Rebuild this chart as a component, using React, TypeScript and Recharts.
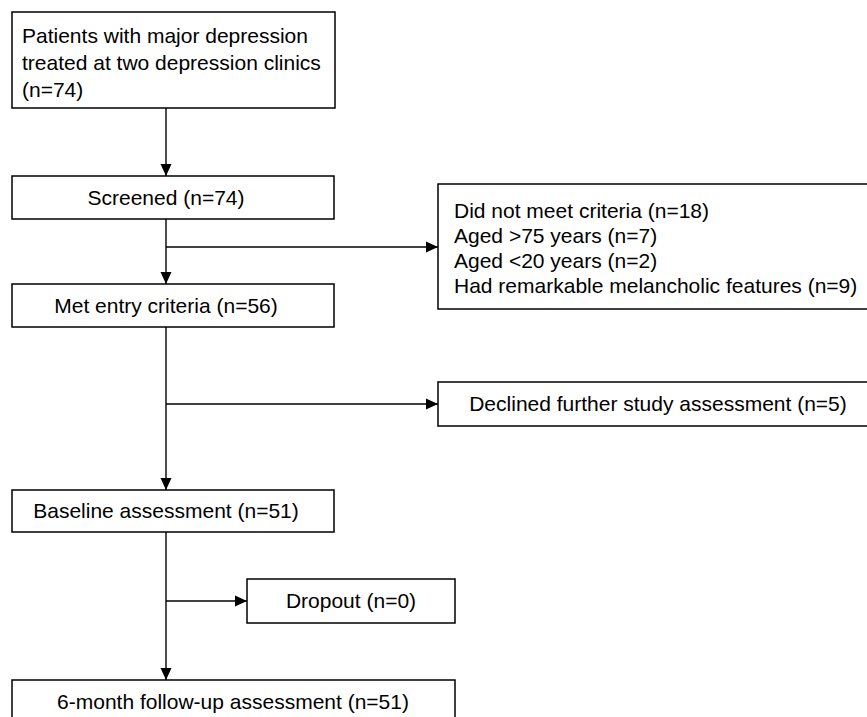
import React from "react";
import {
  ScatterChart,
  Scatter,
  XAxis,
  YAxis,
  ReferenceArea,
  ReferenceLine,
} from "recharts";

// Flowchart nodes (box corners in chart data coordinates)
const boxX1 = [12, 12, 438, 12, 438, 12, 247, 12];
const boxX2 = [335, 334, 880, 334, 878, 334, 455, 455];
const boxY1 = [12, 176, 184, 284, 382, 490, 579, 680];
const boxY2 = [108, 219, 309, 327, 426, 532, 623, 723];

// Text lines: content, anchor point, alignment
const labelTexts = [
  "Patients with major depression",
  "treated at two depression clinics",
  "(n=74)",
  "Screened (n=74)",
  "Did not meet criteria (n=18)",
  "Aged >75 years (n=7)",
  "Aged <20 years (n=2)",
  "Had remarkable melancholic features (n=9)",
  "Met entry criteria (n=56)",
  "Declined further study assessment (n=5)",
  "Baseline assessment (n=51)",
  "Dropout (n=0)",
  "6-month follow-up assessment (n=51)",
];
const labelX = [22, 22, 22, 166, 454, 454, 454, 454, 166, 658, 166, 351, 233];
const labelY = [36, 63, 90, 197.5, 211, 236, 261, 286, 305.5, 404, 511, 601, 701.5];
const labelAnchor = [
  "start", "start", "start", "middle", "start", "start", "start", "start",
  "middle", "middle", "middle", "middle", "middle",
];

// Connector segments
const segX1 = [166, 166, 166, 166, 166, 166, 166];
const segY1 = [108, 219, 247, 327, 404, 532, 601];
const segX2 = [166, 166, 438, 166, 438, 166, 247];
const segY2 = [176, 284, 247, 490, 404, 680, 601];

// Arrowhead tips
const arrowX = [166, 166, 438, 166, 438, 166, 247];
const arrowY = [176, 284, 247, 490, 404, 680, 601];
const arrowDir = ["down", "down", "right", "down", "right", "down", "right"];

const labelData = labelTexts.map((t, i) => ({
  x: labelX[i],
  y: labelY[i],
  text: t,
  anchor: labelAnchor[i],
}));
const arrowData = arrowX.map((x, i) => ({ x, y: arrowY[i], dir: arrowDir[i] }));

const FONT = "'Liberation Sans', Arial, sans-serif";

const LabelShape = (props: any) => {
  const { cx, cy, payload } = props;
  return (
    <text
      x={cx}
      y={cy}
      dy="0.35em"
      textAnchor={payload.anchor}
      fontFamily={FONT}
      fontSize={21}
      fill="#000"
    >
      {payload.text}
    </text>
  );
};

const ArrowShape = (props: any) => {
  const { cx, cy, payload } = props;
  const L = 12;
  const h = 5.5;
  const pts =
    payload.dir === "down"
      ? `${cx},${cy} ${cx - h},${cy - L} ${cx + h},${cy - L}`
      : `${cx},${cy} ${cx - L},${cy - h} ${cx - L},${cy + h}`;
  return <polygon points={pts} fill="#000" stroke="none" />;
};

export default function App() {
  return (
    <div style={{ position: "absolute", left: 0, top: 0, background: "#fff" }}>
      <ScatterChart
        width={867}
        height={717}
        margin={{ top: 0, right: 0, bottom: 0, left: 0 }}
      >
        <XAxis type="number" dataKey="x" domain={[0, 867]} hide allowDataOverflow />
        <YAxis type="number" dataKey="y" domain={[0, 717]} reversed hide allowDataOverflow />
        {segX1.map((x, i) => (
          <ReferenceLine
            key={`s${i}`}
            segment={[
              { x, y: segY1[i] },
              { x: segX2[i], y: segY2[i] },
            ]}
            stroke="#000"
            strokeWidth={1.4}
            ifOverflow="visible"
          />
        ))}
        {boxX1.map((x, i) => (
          <ReferenceArea
            key={`b${i}`}
            x1={x}
            x2={boxX2[i]}
            y1={boxY1[i]}
            y2={boxY2[i]}
            fill="#fff"
            fillOpacity={1}
            stroke="#000"
            strokeWidth={1.5}
            ifOverflow="visible"
          />
        ))}
        <Scatter data={arrowData} shape={ArrowShape} isAnimationActive={false} />
        <Scatter data={labelData} shape={LabelShape} isAnimationActive={false} />
      </ScatterChart>
    </div>
  );
}
